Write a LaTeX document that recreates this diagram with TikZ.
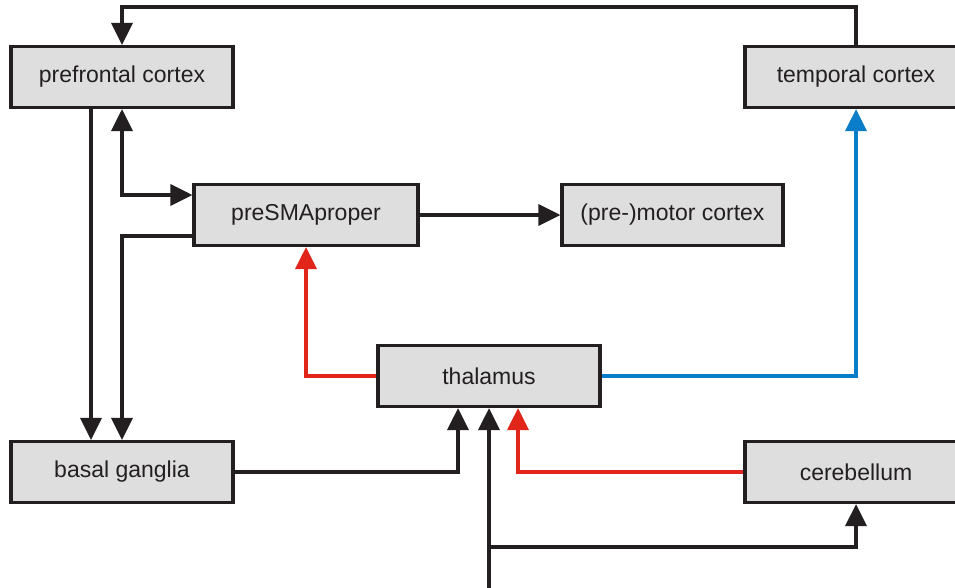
\documentclass[tikz,border=0pt]{standalone}
\usepackage{fontspec}
\setmainfont{Liberation Sans}
\usetikzlibrary{arrows.meta,calc}
\definecolor{boxfill}{HTML}{DEDEDE}
\definecolor{ink}{HTML}{231F20}
\definecolor{redline}{HTML}{E1251B}
\definecolor{blueline}{HTML}{0A7DC8}
\begin{document}
\begin{tikzpicture}[x=1pt,y=-1pt,
  box/.style={draw=ink,fill=boxfill,line width=3.2pt,minimum width=222pt,minimum height=61pt,inner sep=0pt,font=\fontsize{23}{27}\selectfont,text=ink},
  conn/.style={draw=ink,line width=3.3pt},
  arr/.style={conn,-{Triangle[length=22pt,width=21pt]}},
  darr/.style={conn,{Triangle[length=22pt,width=21pt]}-{Triangle[length=22pt,width=21pt]}},
  redarr/.style={arr,draw=redline},
  bluearr/.style={arr,draw=blueline}]
\useasboundingbox (0,0) rectangle (955,587);
\clip (0,0) rectangle (955,587);
\fill[white] (0,0) rectangle (955,587);
\node[box] (pfc) at (122,77) {prefrontal cortex};
\node[box] (tmp) at (856,77) {temporal cortex};
\node[box,minimum width=224pt] (psma) at (306,215) {preSMAproper};
\node[box,minimum width=221pt] (mot) at (672.5,215) {(pre-)motor cortex};
\node[box] (thal) at (489,376) {thalamus};
\node[box] (bg) at (122,472) {basal ganglia};
\node[box] (cer) at (856,472) {cerebellum};
\coordinate (ytop) at (0,7);
\coordinate (xpb) at (91,0);
\coordinate (ydbl) at (0,195);
\coordinate (ypsbg) at (0,236);
\coordinate (xbg) at (458,0);
\coordinate (xcer) at (518,0);
\coordinate (bot) at (489,600);
\coordinate (ybr) at (0,547);
% connectors
\draw[arr] (tmp.north) -- (tmp.north |- ytop) -| (pfc.north);
\draw[arr] (pfc.south -| xpb) -- (bg.north -| xpb);
\draw[darr] (pfc.south) |- (ydbl -| psma.west);
\draw[arr] (ypsbg -| psma.west) -| (bg.north);
\draw[arr] (psma.east) -- (mot.west);
\draw[redarr] (thal.west) -| (psma.south);
\draw[bluearr] (thal.east) -| (tmp.south);
\draw[arr] (bg.east) -| (thal.south -| xbg);
\draw[arr] (bot) -- (thal.south);
\draw[arr] (bot |- ybr) -| (cer.south);
\draw[redarr] (cer.west) -| (thal.south -| xcer);
\end{tikzpicture}
\end{document}
